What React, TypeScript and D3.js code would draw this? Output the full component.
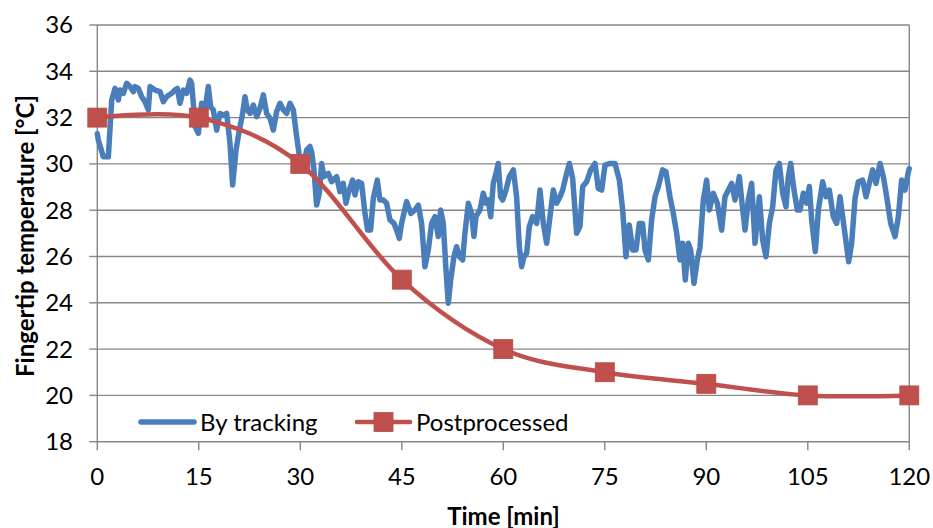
import React from 'react';
import * as d3 from 'd3';

const xTicks = [0, 15, 30, 45, 60, 75, 90, 105, 120];
const yTicks = [18, 20, 22, 24, 26, 28, 30, 32, 34, 36];

const postTime = [0, 15, 30, 45, 60, 75, 90, 105, 120];
const postTemp = [32, 32, 30, 25, 22, 21, 20.5, 20, 20];

const trackTime = [
  0.0, 0.15, 0.89, 1.63, 2.13, 2.62, 3.11, 3.35, 3.85, 4.34, 4.83, 5.33, 5.57, 6.07, 6.56, 7.05, 7.54, 7.79,
  8.53, 9.27, 9.76, 10.25, 10.99, 11.48, 11.83, 12.22, 12.71, 13.2, 13.7, 13.94, 14.19, 14.44, 14.93, 15.42,
  15.91, 16.41, 16.75, 17.15, 17.64, 18.13, 18.62, 19.12, 19.61, 20.0, 20.5, 20.99, 21.48, 21.83, 22.17, 22.57,
  23.06, 23.55, 24.04, 24.54, 25.03, 25.52, 26.01, 26.51, 27.0, 27.49, 27.98, 28.48, 28.97, 29.46, 29.95, 30.45,
  30.94, 31.43, 31.67, 32.02, 32.41, 32.81, 33.15, 33.5, 34.14, 34.63, 35.37, 35.86, 36.35, 36.75, 37.09, 37.73,
  38.08, 38.57, 39.06, 39.56, 39.95, 40.39, 40.79, 41.38, 41.77, 42.27, 42.76, 43.25, 43.84, 44.24, 44.63, 44.97,
  45.71, 46.35, 46.94, 47.44, 47.93, 48.42, 48.92, 49.41, 49.9, 50.39, 50.74, 51.13, 51.53, 51.87, 52.22, 52.71,
  53.1, 53.5, 53.99, 54.33, 54.83, 55.32, 55.66, 55.96, 56.55, 57.04, 57.44, 57.78, 58.13, 58.52, 58.92, 59.26,
  59.6, 59.9, 60.4, 60.89, 61.48, 61.97, 62.37, 62.71, 63.06, 63.45, 63.84, 64.34, 64.93, 65.42, 65.91, 66.41,
  66.9, 67.39, 67.88, 68.38, 68.77, 69.36, 69.76, 70.25, 70.84, 71.33, 71.73, 72.32, 72.91, 73.55, 74.04, 74.54,
  75.03, 75.77, 76.51, 77.15, 77.64, 78.13, 78.62, 79.12, 79.61, 80.1, 80.59, 80.94, 81.43, 81.92, 82.42, 82.91,
  83.55, 84.04, 84.63, 85.13, 85.62, 86.11, 86.5, 86.9, 87.34, 87.69, 88.18, 88.67, 89.07, 89.56, 90.05, 90.45,
  91.04, 91.63, 92.27, 92.76, 93.26, 93.75, 94.24, 94.88, 95.23, 95.72, 96.21, 96.7, 97.2, 97.84, 98.33, 98.82,
  99.32, 99.81, 100.3, 100.79, 101.29, 101.78, 102.12, 102.47, 102.96, 103.45, 103.85, 104.34, 104.83, 105.23,
  105.57, 106.11, 106.56, 107.2, 107.69, 108.18, 108.77, 109.27, 109.76, 110.35, 111.04, 111.48, 111.98, 112.47,
  113.11, 113.6, 114.09, 114.59, 115.08, 115.67, 116.16, 116.66, 117.25, 117.89, 118.38, 118.87, 119.37, 119.86,
  120.0,
];

const trackTemp = [
  31.3, 31.03, 30.31, 30.31, 32.76, 33.26, 32.76, 33.19, 33.05, 33.48, 33.34, 33.12, 33.34, 33.26, 32.9, 32.69,
  32.33, 33.34, 33.19, 33.12, 32.69, 32.9, 33.05, 33.19, 33.26, 32.62, 33.19, 33.05, 33.62, 33.48, 32.62, 31.61,
  31.32, 32.62, 32.33, 33.34, 32.47, 32.33, 31.46, 32.18, 32.11, 32.18, 30.89, 29.09, 30.6, 31.46, 32.18, 32.9,
  32.33, 32.18, 32.54, 32.04, 32.4, 32.98, 32.18, 31.97, 31.46, 32.26, 32.62, 32.33, 32.18, 32.62, 32.33, 31.18,
  30.17, 29.9, 30.6, 30.75, 30.53, 29.74, 28.22, 28.73, 30.02, 29.45, 29.59, 29.23, 29.45, 28.8, 29.16, 28.3,
  28.73, 29.3, 28.66, 29.23, 29.16, 27.86, 27.14, 27.14, 28.51, 29.3, 28.44, 28.44, 28.3, 27.58, 27.43, 27.14,
  26.78, 27.43, 28.37, 27.86, 28.01, 28.22, 27.43, 25.56, 26.28, 27.43, 27.72, 26.86, 28.01, 27.43, 25.42, 23.98,
  24.98, 26.0, 26.42, 26.0, 25.85, 27.0, 28.3, 27.86, 26.86, 27.72, 28.01, 28.73, 28.3, 28.44, 27.72, 29.16,
  29.59, 30.02, 28.58, 28.44, 28.87, 29.45, 29.74, 28.58, 26.42, 25.56, 25.99, 26.14, 27.29, 27.72, 27.43, 28.87,
  27.43, 26.57, 27.72, 28.87, 28.3, 28.58, 28.87, 29.59, 30.02, 29.38, 27.0, 27.29, 29.02, 29.23, 29.74, 30.02,
  28.94, 28.87, 29.95, 30.02, 30.02, 29.3, 28.01, 25.99, 27.36, 26.28, 26.28, 27.43, 27.43, 26.28, 25.85, 27.58,
  28.58, 29.02, 29.74, 29.66, 28.58, 27.86, 27.0, 25.85, 26.57, 24.98, 26.57, 26.28, 24.84, 25.85, 26.4, 28.44,
  29.3, 28.01, 28.73, 28.3, 27.14, 28.58, 28.87, 29.16, 28.44, 29.45, 28.44, 27.14, 28.44, 29.16, 26.57, 28.58,
  26.71, 25.99, 27.43, 28.15, 29.74, 30.02, 28.73, 28.15, 29.45, 30.02, 28.87, 28.01, 28.01, 28.73, 28.3, 29.02,
  27.58, 26.21, 28.01, 29.23, 28.58, 28.87, 27.72, 27.43, 28.58, 27.29, 25.77, 26.57, 28.51, 29.23, 29.3, 28.58,
  29.16, 29.74, 29.16, 30.02, 29.45, 28.58, 27.43, 26.86, 27.72, 29.3, 28.87, 29.66, 29.8,
];

const W = 933;
const H = 528;
const FONT = 'Lato, "Open Sans", sans-serif';
const BLUE = '#4A7EBB';
const RED = '#C0504D';
const GRID = '#878787';

export default function App() {
  const x = d3.scaleLinear().domain([0, 120]).range([97.3, 909.3]);
  const y = d3.scaleLinear().domain([18, 36]).range([441.7, 25]);

  const blueIdx = d3.range(Math.min(trackTime.length, trackTemp.length));
  const bluePath =
    d3
      .line<number>()
      .x((i) => x(trackTime[i]))
      .y((i) => y(trackTemp[i]))(blueIdx) || '';

  const redIdx = d3.range(postTime.length);
  const redPath =
    d3
      .line<number>()
      .curve(d3.curveCardinal.tension(0))
      .x((i) => x(postTime[i]))
      .y((i) => y(postTemp[i]))(redIdx) || '';

  const ms = 19;
  const [x0, x1] = x.range();
  const [yb, yt] = y.range();

  return (
    <svg
      width={W}
      height={H}
      style={{ position: 'absolute', left: 0, top: 0, background: '#fff' }}
      fontFamily={FONT}
    >
      <rect x={0} y={0} width={W} height={H} fill="#fff" />
      {/* gridlines */}
      {yTicks.map((t) => (
        <line key={'g' + t} x1={x0} x2={x1} y1={y(t)} y2={y(t)} stroke={GRID} strokeWidth={1.4} />
      ))}
      {/* plot borders */}
      <line x1={x0} x2={x0} y1={yt} y2={yb} stroke={GRID} strokeWidth={1.4} />
      <line x1={x1} x2={x1} y1={yt} y2={yb} stroke={GRID} strokeWidth={1.4} />
      {/* y ticks */}
      {yTicks.map((t) => (
        <g key={'y' + t}>
          <line x1={x0 - 8} x2={x0} y1={y(t)} y2={y(t)} stroke={GRID} strokeWidth={1.4} />
          <text x={73} y={y(t) + 8.4} textAnchor="end" fontSize={24} fill="#000">
            {t}
          </text>
        </g>
      ))}
      {/* x ticks */}
      {xTicks.map((t) => (
        <g key={'x' + t}>
          <line x1={x(t)} x2={x(t)} y1={yb} y2={yb + 8.5} stroke={GRID} strokeWidth={1.4} />
          <text x={x(t)} y={485} textAnchor="middle" fontSize={24} fill="#000">
            {t}
          </text>
        </g>
      ))}
      {/* series */}
      <path d={bluePath} fill="none" stroke={BLUE} strokeWidth={5.5} strokeLinejoin="round" strokeLinecap="round" />
      <path d={redPath} fill="none" stroke={RED} strokeWidth={4.5} strokeLinejoin="round" />
      {redIdx.map((i) => (
        <rect
          key={'m' + i}
          x={x(postTime[i]) - ms / 2}
          y={y(postTemp[i]) - ms / 2}
          width={ms}
          height={ms}
          fill={RED}
          stroke="#B84A47"
          strokeWidth={0.8}
        />
      ))}
      {/* legend */}
      <line x1={141} x2={194} y1={422} y2={422} stroke={BLUE} strokeWidth={5.5} strokeLinecap="round" />
      <text x={200} y={430.5} fontSize={24} fill="#000">
        By tracking
      </text>
      <line x1={357} x2={410} y1={422} y2={422} stroke={RED} strokeWidth={4.5} strokeLinecap="round" />
      <rect x={383.5 - ms / 2} y={422 - ms / 2} width={ms} height={ms} fill={RED} stroke="#B84A47" strokeWidth={0.8} />
      <text x={416} y={430.5} fontSize={24} fill="#000">
        Postprocessed
      </text>
      {/* axis titles */}
      <text x={503.5} y={524.5} textAnchor="middle" fontSize={24} fontWeight="bold" fill="#000">
        Time [min]
      </text>
      <text
        transform={`translate(33.5,236) rotate(-90)`}
        textAnchor="middle"
        fontSize={24}
        fontWeight="bold"
        fill="#000"
      >
        Fingertip temperature [°C]
      </text>
    </svg>
  );
}
